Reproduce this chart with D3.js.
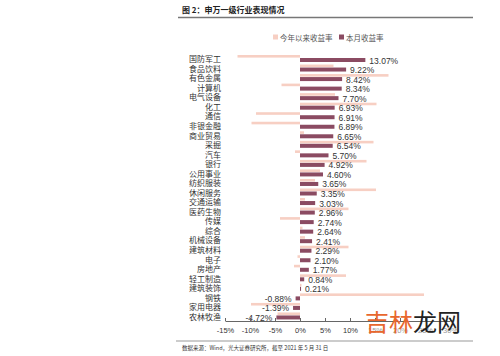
<!DOCTYPE html>
<html><head><meta charset="utf-8">
<script src="https://cdn.jsdelivr.net/npm/d3@7"></script>
<style>body{margin:0;background:#fff}svg{display:block}</style>
</head><body>
<svg id="c" width="500" height="356"></svg>
<script>
const categories = ["国防军工","食品饮料","有色金属","计算机","电气设备","化工","通信","非银金融","商业贸易","采掘","汽车","银行","公用事业","纺织服装","休闲服务","交通运输","医药生物","传媒","综合","机械设备","建筑材料","电子","房地产","轻工制造","建筑装饰","钢铁","家用电器","农林牧渔"];
const monthly = [13.07,9.22,8.42,8.34,7.70,6.93,6.91,6.89,6.65,6.54,5.70,4.92,4.60,3.65,3.35,3.03,2.96,2.74,2.64,2.41,2.29,2.10,1.77,0.84,0.21,-0.88,-1.39,-4.72];
const ytd = [-12.5,6.7,17.7,-3.7,7.0,15.3,-8.8,-9.7,0.8,14.7,-1.0,13.3,4.0,3.0,15.2,1.0,9.7,-4.0,0.5,1.0,9.7,-0.5,-1.2,9.2,0.3,24.8,-9.8,-4.5];
const xTicks = [-15,-10,-5,0,5,10,15,20,25,30];
const seriesNames = ["今年以来收益率","本月收益率"];
const colors = ["#f7cfc3","#8b4b62"];

const svg = d3.select("#c");
const x = d3.scaleLinear().domain([-15,30]).range([225,450]);
const y = d3.scaleBand().domain(categories).range([54,321]);
const cjk = "'Noto Sans CJK SC','Noto Sans',sans-serif";
const lat = "'Liberation Sans',Arial,sans-serif";

// title
svg.append("text").attr("x",182).attr("y",13).attr("font-family",cjk).attr("font-weight","bold")
  .attr("font-size",8).attr("fill","#222").text("图 2：申万一级行业表现情况");
svg.append("line").attr("x1",178).attr("x2",473).attr("y1",17.5).attr("y2",17.5)
  .attr("stroke","#777").attr("stroke-width",1.5);

// legend
const lg = svg.append("g").attr("transform","translate(273,37)");
seriesNames.forEach((n,i)=>{
  const ox = i===0?0:66;
  lg.append("rect").attr("x",ox).attr("y",-2.5).attr("width",5).attr("height",5).attr("fill",colors[i]);
  lg.append("text").attr("x",ox+7).attr("y",0).attr("dominant-baseline","central")
    .attr("font-family",cjk).attr("font-size",7.5).attr("fill","#555").text(n);
});

// bars
svg.append("g").selectAll("rect").data(categories).join("rect")
  .attr("x",(d,i)=>x(Math.min(0,ytd[i]))).attr("width",(d,i)=>Math.abs(x(ytd[i])-x(0)))
  .attr("y",d=>y(d)+1).attr("height",2.6).attr("fill",colors[0]);
svg.append("g").selectAll("rect").data(categories).join("rect")
  .attr("x",(d,i)=>x(Math.min(0,monthly[i]))).attr("width",(d,i)=>Math.abs(x(monthly[i])-x(0)))
  .attr("y",d=>y(d)+4).attr("height",4).attr("fill",colors[1]);

// category labels
svg.append("g").selectAll("text").data(categories).join("text")
  .attr("x",221).attr("y",d=>y(d)+y.bandwidth()/2).attr("dominant-baseline","central")
  .attr("text-anchor","end").attr("font-family",cjk).attr("font-size",8).attr("fill","#333").text(d=>d);

// value labels
svg.append("g").selectAll("text").data(categories).join("text")
  .attr("x",(d,i)=>monthly[i]>=0 ? x(monthly[i])+4 : x(monthly[i])-4)
  .attr("text-anchor",(d,i)=>monthly[i]>=0?"start":"end")
  .attr("y",d=>y(d)+6.5).attr("dominant-baseline","central")
  .attr("font-family",lat).attr("font-size",8.5).attr("fill","#333")
  .text((d,i)=>monthly[i].toFixed(2)+"%");

// axis
const ax = svg.append("g").attr("transform","translate(0,321)")
  .call(d3.axisBottom(x).tickValues(xTicks).tickFormat(d=>d+"%").tickSizeInner(-3).tickSizeOuter(0).tickPadding(7));
ax.select(".domain").attr("stroke","#666");
ax.selectAll(".tick line").attr("stroke","#666");
ax.selectAll(".tick text").attr("font-family",lat).attr("font-size",7.5).attr("fill","#333")
  .attr("opacity",d=>d>10?0.5:1);

// watermark
const wm = svg.append("text").attr("x",365).attr("y",331).attr("font-family",cjk).attr("font-size",24);
wm.append("tspan").attr("fill","#e8672e").text("吉林");
wm.append("tspan").attr("fill","#222").text("龙网");

// source
svg.append("line").attr("x1",176).attr("x2",473).attr("y1",341).attr("y2",341)
  .attr("stroke","#999").attr("stroke-width",1);
svg.append("text").attr("x",182).attr("y",348).attr("dominant-baseline","central")
  .attr("font-family",cjk).attr("font-size",5.5).attr("fill","#333")
  .text("数据来源：Wind，光大证券研究所，截至 2021 年 5 月 31 日");
</script>
</body></html>
